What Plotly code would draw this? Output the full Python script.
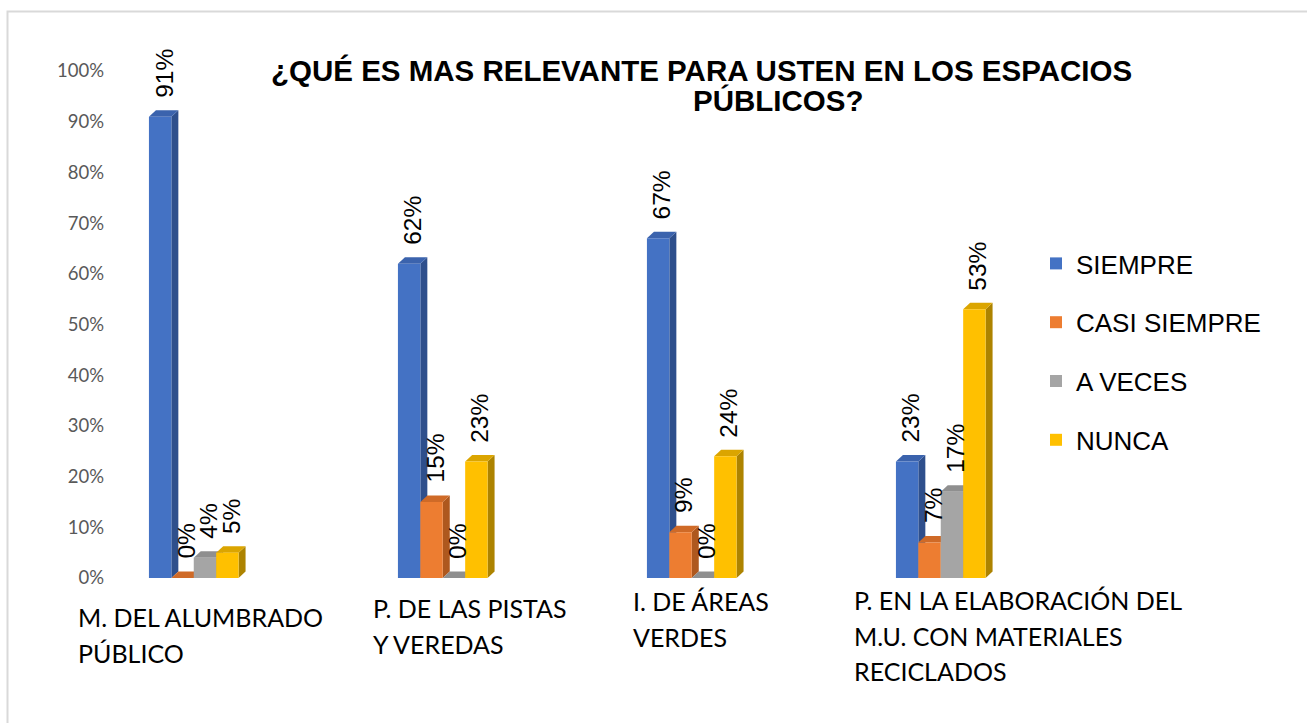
import plotly.graph_objects as go

# ---- data -------------------------------------------------------------
categories = [
    "M. DEL ALUMBRADO<br>PÚBLICO",
    "P. DE LAS PISTAS<br>Y VEREDAS",
    "I. DE ÁREAS<br>VERDES",
    "P. EN LA ELABORACIÓN DEL<br>M.U. CON MATERIALES<br>RECICLADOS",
]
series_names = ["SIEMPRE", "CASI SIEMPRE", "A VECES", "NUNCA"]
siempre = [91, 62, 67, 23]
casi_siempre = [0, 15, 9, 7]
a_veces = [4, 0, 0, 17]
nunca = [5, 23, 24, 53]
y_ticks = [0, 10, 20, 30, 40, 50, 60, 70, 80, 90, 100]
title_lines = ["¿QUÉ ES MAS RELEVANTE PARA USTEN EN LOS ESPACIOS", "PÚBLICOS?"]

series_values = [siempre, casi_siempre, a_veces, nunca]

# ---- style ------------------------------------------------------------
front_colors = ["#4472C4", "#ED7D31", "#A5A5A5", "#FFC000"]
top_colors = ["#3B63AD", "#CF6A27", "#8F8F8F", "#DBA500"]
side_colors = ["#2E4F8C", "#AE581E", "#7A7A7A", "#AD8300"]

FIG_W, FIG_H = 1307, 723
PLOT_L, PLOT_R, PLOT_T, PLOT_B = 115, 1040, 71, 578
PLOT_W, PLOT_H = PLOT_R - PLOT_L, PLOT_B - PLOT_T

CAT_PX = 249.0                      # pixels per category slot
FIRST_CENTER_PX = 195.0
X0 = (PLOT_L - FIRST_CENTER_PX) / CAT_PX
X_RANGE = [X0, X0 + PLOT_W / CAT_PX]
Y_RANGE = [0, 100]

BAR_W = 0.09
OFFSETS = [-0.185 + i * BAR_W for i in range(4)]
DX = 7.0 / CAT_PX                   # depth of the 3-D faces (x units)
DY = 6.5 / (PLOT_H / 100.0)         # depth of the 3-D faces (y units)

# per-category label placement (pixel shifts)
LABEL_XSHIFT = [-119, -73, -62, -90]
LABEL_FIRST_LINE_PX = [617, 608, 601, 600]
LABEL_LINE_STEP = 35.5

BASE_FONT = "Liberation Sans, Arial, sans-serif"
AXIS_FONT = "Lato, Calibri, sans-serif"


def px_to_paper_x(px):
    return (px - PLOT_L) / PLOT_W


def px_to_paper_y(py):
    return 1 - (py - PLOT_T) / PLOT_H


fig = go.Figure()
shapes = []
annotations = []

xs = list(range(len(categories)))

for i, (name, vals) in enumerate(zip(series_names, series_values)):
    fig.add_trace(go.Bar(
        x=xs, y=vals, name=name, legendgroup=name,
        width=BAR_W, offset=OFFSETS[i],
        marker=dict(color=front_colors[i], line=dict(width=0)),
        hoverinfo="skip",
    ))
    for k, v in enumerate(vals):
        x0 = k + OFFSETS[i]
        x1 = x0 + BAR_W
        # right side face
        shapes.append(dict(
            type="path", xref="x", yref="y", layer="below",
            path=f"M {x1},0 L {x1 + DX},{DY} L {x1 + DX},{v + DY} L {x1},{v} Z",
            fillcolor=side_colors[i], line=dict(width=0),
        ))
        # top face
        shapes.append(dict(
            type="path", xref="x", yref="y", layer="below",
            path=f"M {x0},{v} L {x0 + DX},{v + DY} L {x1 + DX},{v + DY} L {x1},{v} Z",
            fillcolor=top_colors[i], line=dict(width=0),
        ))
        # value label
        annotations.append(dict(
            x=x0 + BAR_W / 2 + DX / 2, y=v, xref="x", yref="y",
            text=f"{v}%", textangle=-90, showarrow=False,
            xanchor="center", yanchor="bottom", yshift=17,
            font=dict(family=BASE_FONT, size=24.5, color="#000000"),
        ))

# category labels, one annotation per line
for k, label in enumerate(categories):
    for j, line in enumerate(label.split("<br>")):
        cy = LABEL_FIRST_LINE_PX[k] + j * LABEL_LINE_STEP
        annotations.append(dict(
            x=k, y=px_to_paper_y(cy), xref="x", yref="paper",
            text=line, showarrow=False, xanchor="left", yanchor="middle",
            xshift=LABEL_XSHIFT[k], align="left",
            font=dict(family=AXIS_FONT, size=25, color="#000000"),
        ))

# title
title_centers = [(701, 70), (778, 101)]
for line, (cx, cy) in zip(title_lines, title_centers):
    annotations.append(dict(
        x=px_to_paper_x(cx), y=px_to_paper_y(cy), xref="paper", yref="paper",
        text=f"<b>{line}</b>", showarrow=False, xanchor="center", yanchor="middle",
        font=dict(family=BASE_FONT, size=29.5, color="#000000"),
    ))

# chart frame
shapes.append(dict(
    type="rect", xref="paper", yref="paper",
    x0=px_to_paper_x(7.5), x1=px_to_paper_x(1320),
    y0=px_to_paper_y(740), y1=px_to_paper_y(11.5),
    line=dict(color="#D9D9D9", width=2), fillcolor="rgba(0,0,0,0)",
))

fig.update_layout(
    width=FIG_W, height=FIG_H,
    margin=dict(l=PLOT_L, r=FIG_W - PLOT_R, t=PLOT_T, b=FIG_H - PLOT_B, pad=0),
    paper_bgcolor="#FFFFFF", plot_bgcolor="#FFFFFF",
    barmode="overlay",
    showlegend=True,
    legend=dict(
        x=px_to_paper_x(1036), y=px_to_paper_y(240), xanchor="left", yanchor="top",
        font=dict(family=BASE_FONT, size=26, color="#000000"),
        tracegroupgap=22, traceorder="grouped", bgcolor="rgba(0,0,0,0)",
    ),
    xaxis=dict(range=X_RANGE, showticklabels=False, showgrid=False,
               zeroline=False, showline=False, fixedrange=True),
    yaxis=dict(range=Y_RANGE, tickvals=y_ticks, ticktext=[f"{t}%" for t in y_ticks],
               showgrid=False, zeroline=False, showline=False, ticks="",
               ticklabelstandoff=10,
               tickfont=dict(family=AXIS_FONT, size=18.5, color="#595959")),
    shapes=shapes,
    annotations=annotations,
)

fig.write_html("out.html")
